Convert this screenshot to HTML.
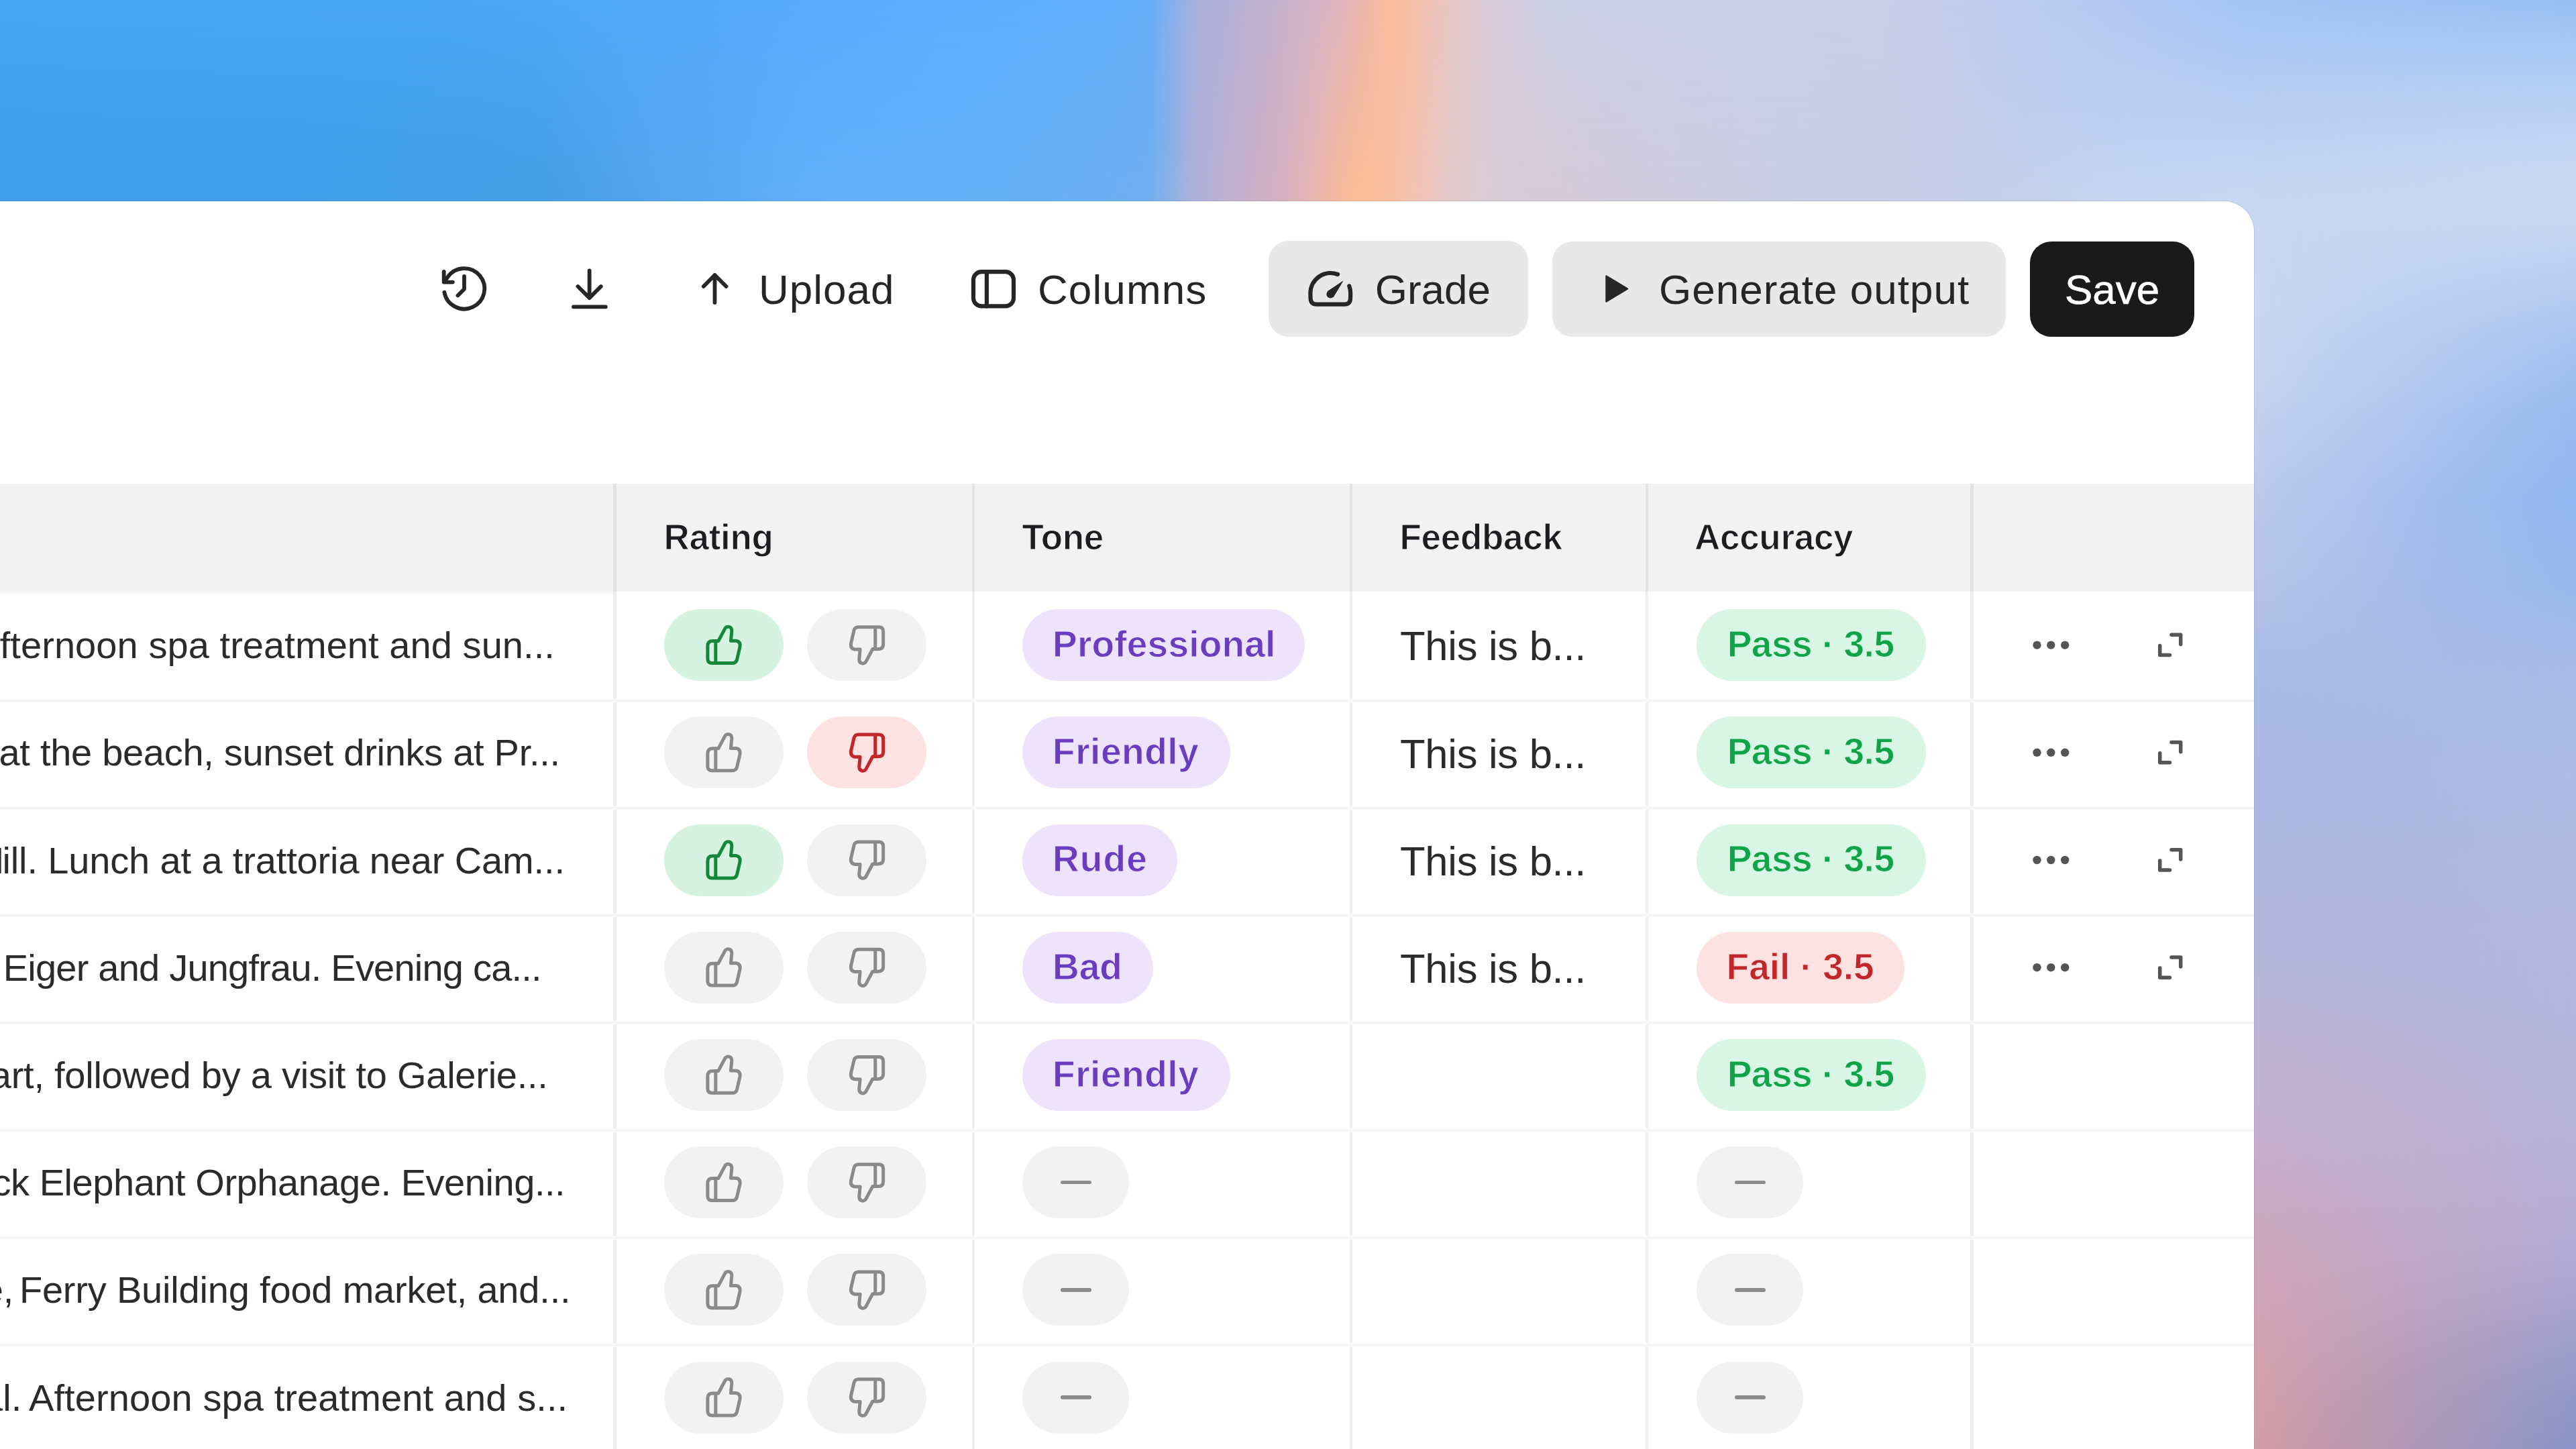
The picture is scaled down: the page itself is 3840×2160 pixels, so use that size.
<!DOCTYPE html>
<html><head><meta charset="utf-8"><title>Eval table</title>
<style>
*{margin:0;padding:0;box-sizing:border-box}
html,body{width:3840px;height:2160px;overflow:hidden}
body{position:relative;background:#c4d0ec;font-family:"Liberation Sans", sans-serif}
.t{position:absolute;white-space:pre;font-family:"Liberation Sans", sans-serif}
#bgtop{position:absolute;left:0;top:0;width:3360px;height:300px;
 background:linear-gradient(90deg,#48a7f3 0px,#4aa7f3 700px,#55abfa 1100px,#5caefd 1400px,#62aefb 1650px,#66aef8 1715px,#80b0f0 1740px,#aab0dc 1786px,#b4b0d8 1833px,#c0b2d0 1880px,#ccb4cc 1926px,#d8b4c4 1973px,#e4b4b8 2010px,#f0b8a8 2041px,#fabca0 2066px,#fcbc9c 2075px,#f8c0a8 2103px,#f0c4b8 2134px,#e4c8c8 2175px,#dccad4 2206px,#d4cce0 2252px,#ccd0e4 2314px,#cccfe6 2400px,#cacfea 2800px,#c2cdee 2950px,#b6caf2 3100px,#aac6f4 3260px,#a2c4f6 3360px)}
#bgtop2{position:absolute;left:0;top:0;width:3360px;height:300px;
 background:linear-gradient(90deg,#3f9ee8 0px,#409fe8 500px,#449fe4 800px,#56a6ee 1000px,#62aef8 1200px,#66b0f8 1500px,#6eaff0 1700px,#72aeee 1718px,#7cb0ec 1724px,#90b0e4 1749px,#a8b0dc 1774px,#b8b0d4 1811px,#c8b0cc 1855px,#d8b0c0 1911px,#e8b4b0 1957px,#f4b8a0 1988px,#fcbc94 2025px,#fcbc98 2041px,#f8c0a8 2081px,#f0c4b8 2122px,#e4c8c8 2159px,#dcccd4 2206px,#d8cad6 2268px,#d2cbdc 2380px,#cccde2 2600px,#c6cde8 2850px,#c4d0ec 3000px,#c6d6f2 3200px,#cad8f2 3360px);
 -webkit-mask-image:linear-gradient(180deg,transparent 0px,#000 300px);mask-image:linear-gradient(180deg,transparent 0px,#000 300px)}
#bgright{position:absolute;left:3360px;top:0;width:480px;height:2160px;
 background:linear-gradient(180deg,#a2c4f6 0px,#b8cef2 150px,#c8d8f2 300px,#cad8f2 450px,#c6d4f0 580px,#bccaee 720px,#b6c4ea 850px,#acbce6 1000px,#aab8e2 1200px,#b2b6dc 1400px,#c0b4d4 1580px,#c8acc8 1750px,#d0a4b8 1900px,#d4a0ac 2050px,#d49ca6 2160px)}
#bgright2{position:absolute;left:3360px;top:0;width:480px;height:2160px;
 background:linear-gradient(180deg,#98c0f4 0px,#b0cdf4 120px,#c8d8f4 250px,#cad8f2 320px,#bcd0f2 400px,#a8c4f0 500px,#98baf0 620px,#90b6f0 750px,#98b8ec 880px,#a8bce8 1000px,#aebce6 1150px,#b2bae2 1350px,#b6b6dc 1550px,#b6aed6 1800px,#a8a4d0 1950px,#9098c8 2080px,#8a94c8 2160px);
 -webkit-mask-image:linear-gradient(90deg,transparent 0px,#000 480px);mask-image:linear-gradient(90deg,transparent 0px,#000 480px)}
#panel{position:absolute;left:-100px;top:300px;width:3460px;height:2000px;background:#fff;border-top-right-radius:45px;box-shadow:0 0 0 1px rgba(20,30,60,0.10)}
.btn{position:absolute;background:#e8e8e8;border-radius:30px}
#thead{position:absolute;left:0;top:721px;width:3360px;height:160.5px;background:#f2f2f2}
.vd{position:absolute;top:881.5px;width:4.4px;height:1300px;background:#efeef3}
.vdh{position:absolute;top:721px;width:4.4px;height:160.5px;background:#e3e2e7}
.hs{position:absolute;left:0;width:3360px;height:5px;background:linear-gradient(180deg,#fbfbfb,#f5f5f5 40%,#f5f5f5 60%,#fbfbfb)}
.pill{position:absolute;height:107px;border-radius:53.5px}
.pill.g{background:#d6f3e2}
.pill.gp{background:#d8f5e5}
.pill.r{background:#fde2e2}
.pill.n{background:#f2f2f2}
.pill.p{background:#ede4fc}
.dash{position:absolute;width:46px;height:5.6px;border-radius:3px;background:#8c8c8c}
#ic{position:absolute;left:0;top:0}
</style></head>
<body>
<div id="bgtop"></div><div id="bgtop2"></div><div id="bgright"></div><div id="bgright2"></div><div style="position:absolute;left:3290px;top:295px;width:75px;height:75px;background:#c8d8f2"></div>
<div id="panel"></div>
<div class="btn" style="left:1891px;top:359px;width:387px;height:143px;"></div>
<div class="btn" style="left:2314px;top:359.5px;width:676px;height:142.5px;"></div>
<div class="btn" style="left:3026px;top:359.5px;width:245px;height:142.5px;background:#1a1a1a;border-radius:32px"></div>
<div class="t" style="left:1131.00px;top:401.14px;font-size:62px;line-height:62px;color:#262626;letter-spacing:1.00px;">Upload</div>
<div class="t" style="left:1547.00px;top:401.14px;font-size:62px;line-height:62px;color:#262626;letter-spacing:1.10px;">Columns</div>
<div class="t" style="left:2049.70px;top:401.14px;font-size:62px;line-height:62px;color:#262626;">Grade</div>
<div class="t" style="left:2473.00px;top:401.14px;font-size:62px;line-height:62px;color:#262626;letter-spacing:1.00px;">Generate output</div>
<div class="t" style="left:3078.00px;top:401.14px;font-size:62px;line-height:62px;color:#ffffff;-webkit-text-stroke:0.6px #fff;">Save</div>
<div id="thead"></div><div style="position:absolute;left:0;top:881px;width:914px;height:5px;background:linear-gradient(180deg,#f4f4f4,#fafafa)"></div>
<div class="t" style="left:989.50px;top:774.47px;font-size:53px;line-height:53px;color:#1c1d21;font-weight:bold;letter-spacing:-0.30px;-webkit-text-stroke:1.1px #f2f2f2;">Rating</div>
<div class="t" style="left:1523.50px;top:774.47px;font-size:53px;line-height:53px;color:#1c1d21;font-weight:bold;letter-spacing:-0.30px;-webkit-text-stroke:1.1px #f2f2f2;">Tone</div>
<div class="t" style="left:2086.50px;top:774.47px;font-size:53px;line-height:53px;color:#1c1d21;font-weight:bold;letter-spacing:-0.30px;-webkit-text-stroke:1.1px #f2f2f2;">Feedback</div>
<div class="t" style="left:2526.00px;top:774.47px;font-size:53px;line-height:53px;color:#1c1d21;font-weight:bold;letter-spacing:-0.30px;-webkit-text-stroke:1.1px #f2f2f2;">Accuracy</div>
<div class="vdh" style="left:914.2px"></div><div class="vd" style="left:914.2px"></div>
<div class="vdh" style="left:1448.5px"></div><div class="vd" style="left:1448.5px"></div>
<div class="vdh" style="left:2012.0px"></div><div class="vd" style="left:2012.0px"></div>
<div class="vdh" style="left:2452.7px"></div><div class="vd" style="left:2452.7px"></div>
<div class="vdh" style="left:2937.3px"></div><div class="vd" style="left:2937.3px"></div>
<div class="hs" style="top:1041.70px"></div>
<div class="hs" style="top:1201.90px"></div>
<div class="hs" style="top:1362.10px"></div>
<div class="hs" style="top:1522.30px"></div>
<div class="hs" style="top:1682.50px"></div>
<div class="hs" style="top:1842.70px"></div>
<div class="hs" style="top:2002.90px"></div>
<div class="t" style="left:-0.30px;top:934.16px;font-size:56px;line-height:56px;color:#2b2b2b;letter-spacing:0.07px;">fternoon spa treatment and sun...</div>
<div class="t" style="right:3840.30px;top:934.16px;font-size:56px;line-height:56px;color:#2b2b2b;letter-spacing:0.07px;">A</div>
<div class="pill g" style="left:989.7px;top:908.10px;width:178px"></div>
<div class="pill n" style="left:1203px;top:908.10px;width:178px"></div>
<div class="pill p" style="left:1524px;top:908.10px;width:421px"></div>
<div class="t" style="left:1569.00px;top:932.99px;font-size:55px;line-height:55px;color:#6a3cbf;font-weight:bold;letter-spacing:0.20px;-webkit-text-stroke:0.9px #ede4fc;">Professional</div>
<div class="t" style="left:2087.00px;top:932.47px;font-size:61.6px;line-height:61.6px;color:#2b2b2b;letter-spacing:-0.30px;">This is b...</div>
<div class="pill gp" style="left:2529px;top:908.10px;width:342px"></div>
<div class="t" style="left:2574.70px;top:932.99px;font-size:55px;line-height:55px;color:#10a449;font-weight:bold;letter-spacing:-0.50px;-webkit-text-stroke:0.9px #d8f5e5;">Pass · 3.5</div>
<div class="t" style="left:-1.50px;top:1094.36px;font-size:56px;line-height:56px;color:#2b2b2b;letter-spacing:-0.29px;">at the beach, sunset drinks at Pr...</div>
<div class="t" style="right:3841.50px;top:1094.36px;font-size:56px;line-height:56px;color:#2b2b2b;letter-spacing:-0.29px;">day </div>
<div class="pill n" style="left:989.7px;top:1068.30px;width:178px"></div>
<div class="pill r" style="left:1203px;top:1068.30px;width:178px"></div>
<div class="pill p" style="left:1524px;top:1068.30px;width:310.4px"></div>
<div class="t" style="left:1569.00px;top:1093.19px;font-size:55px;line-height:55px;color:#6a3cbf;font-weight:bold;letter-spacing:0.55px;-webkit-text-stroke:0.9px #ede4fc;">Friendly</div>
<div class="t" style="left:2087.00px;top:1092.67px;font-size:61.6px;line-height:61.6px;color:#2b2b2b;letter-spacing:-0.30px;">This is b...</div>
<div class="pill gp" style="left:2529px;top:1068.30px;width:342px"></div>
<div class="t" style="left:2574.70px;top:1093.19px;font-size:55px;line-height:55px;color:#10a449;font-weight:bold;letter-spacing:-0.50px;-webkit-text-stroke:0.9px #d8f5e5;">Pass · 3.5</div>
<div class="t" style="left:3.50px;top:1254.56px;font-size:56px;line-height:56px;color:#2b2b2b;letter-spacing:-0.14px;">ill. Lunch at a trattoria near Cam...</div>
<div class="t" style="right:3834.00px;top:1254.56px;font-size:56px;line-height:56px;color:#2b2b2b;letter-spacing:-0.14px;">Notting H</div>
<div class="pill g" style="left:989.7px;top:1228.50px;width:178px"></div>
<div class="pill n" style="left:1203px;top:1228.50px;width:178px"></div>
<div class="pill p" style="left:1524px;top:1228.50px;width:231px"></div>
<div class="t" style="left:1569.00px;top:1253.39px;font-size:55px;line-height:55px;color:#6a3cbf;font-weight:bold;letter-spacing:1.10px;-webkit-text-stroke:0.9px #ede4fc;">Rude</div>
<div class="t" style="left:2087.00px;top:1252.87px;font-size:61.6px;line-height:61.6px;color:#2b2b2b;letter-spacing:-0.30px;">This is b...</div>
<div class="pill gp" style="left:2529px;top:1228.50px;width:342px"></div>
<div class="t" style="left:2574.70px;top:1253.39px;font-size:55px;line-height:55px;color:#10a449;font-weight:bold;letter-spacing:-0.50px;-webkit-text-stroke:0.9px #d8f5e5;">Pass · 3.5</div>
<div class="t" style="left:4.80px;top:1414.76px;font-size:56px;line-height:56px;color:#2b2b2b;letter-spacing:-0.79px;">Eiger and Jungfrau. Evening ca...</div>
<div class="t" style="right:3835.20px;top:1414.76px;font-size:56px;line-height:56px;color:#2b2b2b;letter-spacing:-0.79px;">views of the </div>
<div class="pill n" style="left:989.7px;top:1388.70px;width:178px"></div>
<div class="pill n" style="left:1203px;top:1388.70px;width:178px"></div>
<div class="pill p" style="left:1524px;top:1388.70px;width:195.3px"></div>
<div class="t" style="left:1569.00px;top:1413.59px;font-size:55px;line-height:55px;color:#6a3cbf;font-weight:bold;-webkit-text-stroke:0.9px #ede4fc;">Bad</div>
<div class="t" style="left:2087.00px;top:1413.07px;font-size:61.6px;line-height:61.6px;color:#2b2b2b;letter-spacing:-0.30px;">This is b...</div>
<div class="pill r" style="left:2529px;top:1388.70px;width:310px"></div>
<div class="t" style="left:2573.60px;top:1413.59px;font-size:55px;line-height:55px;color:#c0262a;font-weight:bold;-webkit-text-stroke:0.9px #fde2e2;">Fail · 3.5</div>
<div class="t" style="left:16.70px;top:1574.96px;font-size:56px;line-height:56px;color:#2b2b2b;letter-spacing:-0.25px;">rt, followed by a visit to Galerie...</div>
<div class="t" style="right:3823.30px;top:1574.96px;font-size:56px;line-height:56px;color:#2b2b2b;letter-spacing:-0.25px;">Stuttga</div>
<div class="pill n" style="left:989.7px;top:1548.90px;width:178px"></div>
<div class="pill n" style="left:1203px;top:1548.90px;width:178px"></div>
<div class="pill p" style="left:1524px;top:1548.90px;width:310.4px"></div>
<div class="t" style="left:1569.00px;top:1573.79px;font-size:55px;line-height:55px;color:#6a3cbf;font-weight:bold;letter-spacing:0.55px;-webkit-text-stroke:0.9px #ede4fc;">Friendly</div>
<div class="pill gp" style="left:2529px;top:1548.90px;width:342px"></div>
<div class="t" style="left:2574.70px;top:1573.79px;font-size:55px;line-height:55px;color:#10a449;font-weight:bold;letter-spacing:-0.50px;-webkit-text-stroke:0.9px #d8f5e5;">Pass · 3.5</div>
<div class="t" style="left:58.70px;top:1735.16px;font-size:56px;line-height:56px;color:#2b2b2b;letter-spacing:-0.45px;">Elephant Orphanage. Evening...</div>
<div class="t" style="right:3781.30px;top:1735.16px;font-size:56px;line-height:56px;color:#2b2b2b;letter-spacing:-0.45px;">Visit the Black </div>
<div class="pill n" style="left:989.7px;top:1709.10px;width:178px"></div>
<div class="pill n" style="left:1203px;top:1709.10px;width:178px"></div>
<div class="pill n" style="left:1524px;top:1709.10px;width:159.4px"></div>
<div class="dash" style="left:1580.7px;top:1759.80px"></div>
<div class="pill n" style="left:2529px;top:1709.10px;width:159.4px"></div>
<div class="dash" style="left:2585.7px;top:1759.80px"></div>
<div class="t" style="left:28.90px;top:1895.36px;font-size:56px;line-height:56px;color:#2b2b2b;letter-spacing:-0.19px;">Ferry Building food market, and...</div>
<div class="t" style="right:3804.60px;top:1895.36px;font-size:56px;line-height:56px;color:#2b2b2b;letter-spacing:-0.19px;">Golden Gate Bridge, </div>
<div class="pill n" style="left:989.7px;top:1869.30px;width:178px"></div>
<div class="pill n" style="left:1203px;top:1869.30px;width:178px"></div>
<div class="pill n" style="left:1524px;top:1869.30px;width:159.4px"></div>
<div class="dash" style="left:1580.7px;top:1920.00px"></div>
<div class="pill n" style="left:2529px;top:1869.30px;width:159.4px"></div>
<div class="dash" style="left:2585.7px;top:1920.00px"></div>
<div class="t" style="left:43.00px;top:2055.56px;font-size:56px;line-height:56px;color:#2b2b2b;letter-spacing:0.10px;">Afternoon spa treatment and s...</div>
<div class="t" style="right:3792.00px;top:2055.56px;font-size:56px;line-height:56px;color:#2b2b2b;letter-spacing:0.10px;">Arrival. </div>
<div class="pill n" style="left:989.7px;top:2029.50px;width:178px"></div>
<div class="pill n" style="left:1203px;top:2029.50px;width:178px"></div>
<div class="pill n" style="left:1524px;top:2029.50px;width:159.4px"></div>
<div class="dash" style="left:1580.7px;top:2080.20px"></div>
<div class="pill n" style="left:2529px;top:2029.50px;width:159.4px"></div>
<div class="dash" style="left:2585.7px;top:2080.20px"></div>
<svg id="ic" width="3840" height="2160" viewBox="0 0 3840 2160">
<defs>
<path id="thumb" fill="none" stroke-width="5" stroke-linecap="round" stroke-linejoin="round" d="M1070.8 1115.6 L1080.9 1096.6 C1082.8 1093.2 1091.2 1092.6 1090.8 1101 L1089.4 1115.2 L1097.4 1115.2 Q1104.2 1116.4 1103 1124.2 L1098.5 1143.5 Q1097.2 1148.5 1091.9 1148.5 L1061.5 1148.5 Q1054.9 1148.5 1054.9 1142 L1054.9 1123 Q1054.9 1115.6 1062.3 1115.6 Z M1066.8 1118 L1066.8 1147"/>
<g id="expand" fill="none" stroke="#555" stroke-width="5.5" stroke-linecap="round" stroke-linejoin="round">
 <path d="M3237 946.3 L3250.7 946.3 L3250.7 960.5"/>
 <path d="M3219.7 962.5 L3219.7 976.6 L3234.5 976.6"/>
</g>
</defs>
<g fill="none" stroke="#262626" stroke-width="5.8" stroke-linecap="round" stroke-linejoin="round">
 <path d="M662.4 435.8 A30.2 30.2 0 1 0 667.6 412.7 L662.5 419.5"/>
 <path d="M661.7 405 L661.7 420.6 L674.8 420.6"/>
 <path d="M692 412 L692 431 L682.5 440.5"/>
 <path d="M878.65 403.3 L878.65 443"/>
 <path d="M861.5 427 L878.65 444.1 L895.8 427"/>
 <path d="M855 457.4 L902.8 457.4"/>
 <path d="M1048.8 427 L1065.5 410 L1082.5 427 M1065.5 410 L1065.5 451"/>
 <rect x="1451" y="405.2" width="60" height="51.1" rx="12" ry="12" stroke-width="6.2"/>
 <path d="M1470.9 405.2 L1470.9 456.3" stroke-width="6.2"/>
 <path d="M1994.1 409 A30 30 0 0 0 1953.4 437.1 L1953.6 445 Q1954 453.7 1962.5 453.7 L2004 453.7 Q2012.8 453.7 2013 445 L2013.2 437.1 A30 30 0 0 0 2011.3 426.4" stroke-width="6.2"/>
</g>
<g fill="#262626">
 <circle cx="1983.2" cy="438.6" r="5.8"/>
 <path d="M2001.6 419.4 L1987.4 442.8 L1978.9 434.6 Z" stroke="#262626" stroke-width="1" stroke-linejoin="round"/>
 <path d="M2394.5 411.5 L2426 430.5 L2394.5 449.5 Z" stroke="#262626" stroke-width="2.5" stroke-linejoin="round"/>
</g>
<use href="#thumb" transform="translate(0,-160.00)" stroke="#16873a"/><use href="#thumb" transform="translate(2371.55,2083.20) rotate(180)" stroke="#8a8a8a"/><circle cx="3036.5" cy="961.60" r="6.2" fill="#555"/><circle cx="3057.3" cy="961.60" r="6.2" fill="#555"/><circle cx="3078.2" cy="961.60" r="6.2" fill="#555"/><use href="#expand" transform="translate(0,0.00)"/><use href="#thumb" transform="translate(0,0.20)" stroke="#8a8a8a"/><use href="#thumb" transform="translate(2371.55,2243.40) rotate(180)" stroke="#c0262a"/><circle cx="3036.5" cy="1121.80" r="6.2" fill="#555"/><circle cx="3057.3" cy="1121.80" r="6.2" fill="#555"/><circle cx="3078.2" cy="1121.80" r="6.2" fill="#555"/><use href="#expand" transform="translate(0,160.20)"/><use href="#thumb" transform="translate(0,160.40)" stroke="#16873a"/><use href="#thumb" transform="translate(2371.55,2403.60) rotate(180)" stroke="#8a8a8a"/><circle cx="3036.5" cy="1282.00" r="6.2" fill="#555"/><circle cx="3057.3" cy="1282.00" r="6.2" fill="#555"/><circle cx="3078.2" cy="1282.00" r="6.2" fill="#555"/><use href="#expand" transform="translate(0,320.40)"/><use href="#thumb" transform="translate(0,320.60)" stroke="#8a8a8a"/><use href="#thumb" transform="translate(2371.55,2563.80) rotate(180)" stroke="#8a8a8a"/><circle cx="3036.5" cy="1442.20" r="6.2" fill="#555"/><circle cx="3057.3" cy="1442.20" r="6.2" fill="#555"/><circle cx="3078.2" cy="1442.20" r="6.2" fill="#555"/><use href="#expand" transform="translate(0,480.60)"/><use href="#thumb" transform="translate(0,480.80)" stroke="#8a8a8a"/><use href="#thumb" transform="translate(2371.55,2724.00) rotate(180)" stroke="#8a8a8a"/><use href="#thumb" transform="translate(0,641.00)" stroke="#8a8a8a"/><use href="#thumb" transform="translate(2371.55,2884.20) rotate(180)" stroke="#8a8a8a"/><use href="#thumb" transform="translate(0,801.20)" stroke="#8a8a8a"/><use href="#thumb" transform="translate(2371.55,3044.40) rotate(180)" stroke="#8a8a8a"/><use href="#thumb" transform="translate(0,961.40)" stroke="#8a8a8a"/><use href="#thumb" transform="translate(2371.55,3204.60) rotate(180)" stroke="#8a8a8a"/>
</svg>
</body></html>
